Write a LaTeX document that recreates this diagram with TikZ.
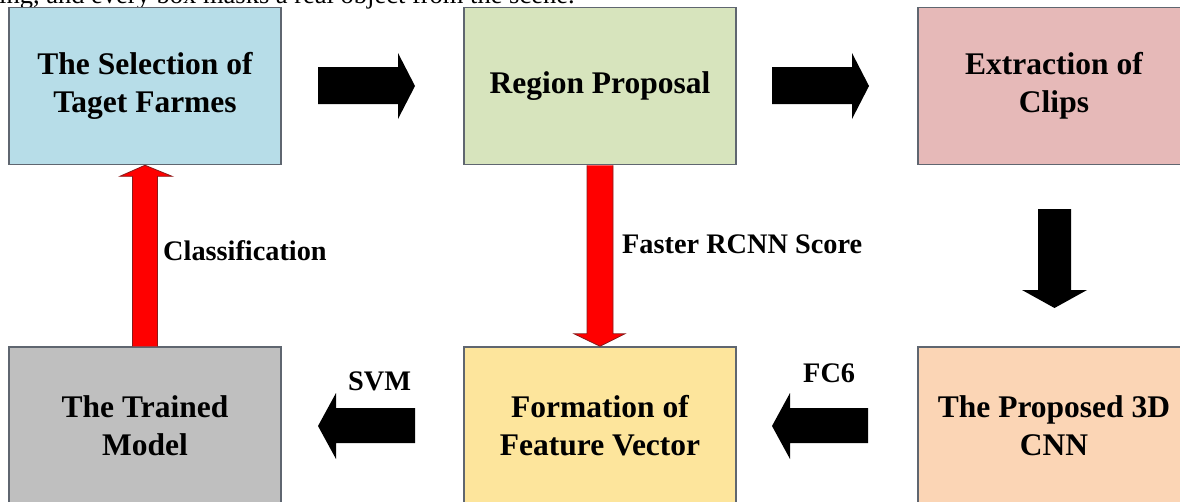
\documentclass[tikz,border=0pt]{standalone}
\usepackage{fontspec}
\setmainfont{Liberation Serif}
\usetikzlibrary{calc}
\definecolor{bblue}{HTML}{B7DDE8}
\definecolor{bgreen}{HTML}{D7E4BD}
\definecolor{bpink}{HTML}{E6B9B8}
\definecolor{bgray}{HTML}{BFBFBF}
\definecolor{byellow}{HTML}{FDE59C}
\definecolor{bpeach}{HTML}{FBD5B5}
\definecolor{bline}{HTML}{5F6670}
\definecolor{redline}{HTML}{8A1A1A}
\begin{document}
\begin{tikzpicture}[x=1pt,y=-1pt,
  box/.style={draw=bline,line width=1.5pt,minimum width=272pt,minimum height=157pt,inner sep=0pt,align=center,
    font=\fontsize{31.5}{38}\selectfont\bfseries},
  lbl/.style={inner sep=0pt,anchor=base west,font=\fontsize{28.3}{30}\selectfont\bfseries},
  blk/.style={fill=black},
  redarrow/.style={fill=red,draw=redline,line width=0.8pt}]
\useasboundingbox (0,0) rectangle (1180,501);
\fill[white] (0,0) rectangle (1180,501);
\clip (0,0) rectangle (1180,501);
% clipped caption line at the top
\node[inner sep=0pt,anchor=base west,font=\fontsize{26.5}{28}\selectfont] (cap) at (-1,3.5) {ing, and every box masks a real object from the scene.};
% boxes
\node[box,fill=bblue]   (b1) at (145,86)    {The Selection of\\Taget Farmes};
\node[box,fill=bgreen]  (b2) at (600,86)    {Region Proposal};
\node[box,fill=bpink]   (b3) at (1054,86)   {Extraction of\\Clips};
\node[box,fill=bgray]   (b4) at (145,425.5) {The Trained\\Model};
\node[box,fill=byellow] (b5) at (600,425.5) {Formation of\\Feature Vector};
\node[box,fill=bpeach]  (b6) at (1054,425.5){The Proposed 3D\\CNN};
% black block arrows
\fill[blk] (318,67) -- (398,67) -- (398,53) -- (415,86) -- (398,119) -- (398,104) -- (318,104) -- cycle;
\fill[blk] (772,67) -- (852,67) -- (852,53) -- (869,86) -- (852,119) -- (852,104) -- (772,104) -- cycle;
\fill[blk] (1038,209) -- (1071,209) -- (1071,290) -- (1087,290) -- (1054.5,308) -- (1022,290) -- (1038,290) -- cycle;
\fill[blk] (868,408) -- (790,408) -- (790,393) -- (772,426) -- (790,459) -- (790,443) -- (868,443) -- cycle;
\fill[blk] (415,408) -- (336,408) -- (336,393) -- (318,426) -- (336,459) -- (336,443) -- (415,443) -- cycle;
% red block arrows
\draw[redarrow] ($(b4.north)+(-12.5,0)$) -- ($(b4.north)+(-12.5,-170)$) -- ($(b4.north)+(-25,-170)$)
  -- (b1.south) -- ($(b4.north)+(27,-170)$) -- ($(b4.north)+(12.5,-170)$) -- ($(b4.north)+(12.5,0)$);
\draw[redarrow] ($(b2.south)+(-13,0)$) -- ($(b2.south)+(-13,168.5)$) -- ($(b2.south)+(-26,168.5)$)
  -- (b5.north) -- ($(b2.south)+(25,168.5)$) -- ($(b2.south)+(13,168.5)$) -- ($(b2.south)+(13,0)$);
% labels
\node[lbl] (lcls) at (163,260) {Classification};
\node[lbl] (lfrs) at (622,253) {Faster RCNN Score};
\node[lbl] (lsvm) at (348,390) {SVM};
\node[lbl] (lfc)  at (803,382) {FC6};
\end{tikzpicture}
\end{document}
